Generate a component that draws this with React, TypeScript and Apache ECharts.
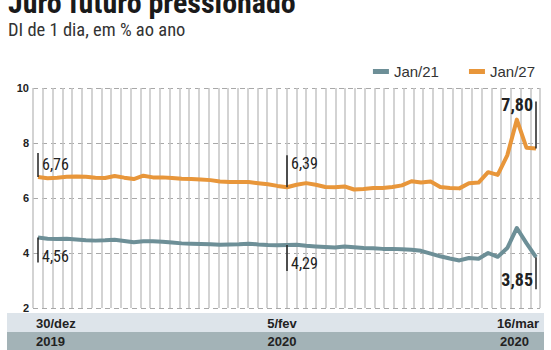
import React, { useEffect, useRef } from "react";
import * as echarts from "echarts";

const dates = [
  "30/dez", "31/dez",
  "2/jan", "3/jan", "6/jan", "7/jan", "8/jan", "9/jan", "10/jan", "13/jan", "14/jan", "15/jan", "16/jan", "17/jan",
  "20/jan", "21/jan", "22/jan", "23/jan", "24/jan", "27/jan", "28/jan", "29/jan", "30/jan", "31/jan",
  "3/fev", "4/fev", "5/fev", "6/fev", "7/fev", "10/fev", "11/fev", "12/fev", "13/fev", "14/fev",
  "17/fev", "18/fev", "19/fev", "20/fev", "21/fev", "26/fev", "27/fev", "28/fev",
  "2/mar", "3/mar", "4/mar", "5/mar", "6/mar", "9/mar", "10/mar", "11/mar", "12/mar", "13/mar", "16/mar",
];

const jan21 = [
  4.56, 4.52, 4.51, 4.52, 4.49, 4.46, 4.45, 4.46, 4.48, 4.44, 4.39, 4.43, 4.43, 4.41,
  4.38, 4.35, 4.34, 4.33, 4.32, 4.30, 4.31, 4.32, 4.34, 4.31, 4.29, 4.28, 4.29, 4.30,
  4.26, 4.24, 4.22, 4.20, 4.24, 4.21, 4.18, 4.17, 4.15, 4.15, 4.14, 4.12, 4.08, 3.98,
  3.88, 3.80, 3.73, 3.82, 3.79, 4.00, 3.86, 4.18, 4.91, 4.36, 3.85,
];

const jan27 = [
  6.76, 6.72, 6.74, 6.77, 6.78, 6.77, 6.74, 6.73, 6.80, 6.74, 6.69, 6.81, 6.75, 6.75,
  6.73, 6.70, 6.69, 6.67, 6.65, 6.60, 6.58, 6.58, 6.58, 6.54, 6.50, 6.44, 6.39, 6.48,
  6.54, 6.48, 6.40, 6.39, 6.42, 6.31, 6.33, 6.36, 6.36, 6.40, 6.46, 6.61, 6.56, 6.60,
  6.40, 6.36, 6.35, 6.54, 6.56, 6.94, 6.84, 7.55, 8.85, 7.83, 7.80,
];

const seriesNames = ["Jan/21", "Jan/27"];
const yTicks = { min: 2, max: 10, step: 2 };
const markedIdx = [0, 26, 52];
const bandDates = ["30/dez", "5/fev", "16/mar"];
const bandYears = ["2019", "2020", "2020"];

const NARROW = "'Liberation Sans Narrow', 'Roboto Condensed', 'Liberation Sans', sans-serif";
const BLUE = "#6d8f97";
const ORANGE = "#e8963a";

const fmt = (v: number) => v.toFixed(2).replace(".", ",");

export default function App() {
  const ref = useRef<HTMLDivElement>(null);
  useEffect(() => {
    if (!ref.current) return;
    const chart = echarts.init(ref.current, undefined, { renderer: "svg" });
    const gridBase = { top: 88, bottom: 42 };
    chart.setOption({
      animation: false,
      backgroundColor: "#ffffff",
      grid: [
        { left: 33, right: 11, ...gridBase },
        { left: 38, right: 15, ...gridBase },
      ],
      legend: {
        data: seriesNames,
        right: 11,
        top: 59,
        icon: "rect",
        itemWidth: 16,
        itemHeight: 5,
        itemGap: 30,
        textStyle: { fontSize: 15, color: "#333", fontFamily: "'Liberation Sans', sans-serif" },
      },
      xAxis: [
        {
          type: "category",
          gridIndex: 0,
          data: dates,
          boundaryGap: false,
          axisLine: { show: false },
          axisTick: { show: false },
          axisLabel: { show: false },
          splitLine: { show: true, interval: 0, lineStyle: { color: "#c4c4c4", width: 1.5 } },
        },
        {
          type: "category",
          gridIndex: 1,
          data: dates,
          boundaryGap: false,
          axisLine: { show: false },
          axisTick: { show: false },
          axisLabel: { show: false },
          splitLine: { show: false },
        },
      ],
      yAxis: [
        {
          type: "value",
          gridIndex: 0,
          min: yTicks.min,
          max: yTicks.max,
          interval: yTicks.step,
          axisLine: { show: false },
          axisTick: { show: false },
          axisLabel: { color: "#222", fontWeight: "bold", fontSize: 11, margin: 4, fontFamily: "'Liberation Sans', sans-serif" },
          splitLine: { lineStyle: { type: [5, 4], color: "#a8a8a8", width: 1 } },
        },
        {
          type: "value",
          gridIndex: 1,
          min: yTicks.min,
          max: yTicks.max,
          interval: yTicks.step,
          axisLine: { show: false },
          axisTick: { show: false },
          axisLabel: { show: false },
          splitLine: { show: false },
        },
      ],
      series: [
        {
          name: seriesNames[0],
          type: "line",
          xAxisIndex: 1,
          yAxisIndex: 1,
          data: jan21,
          symbol: "none",
          color: BLUE,
          lineStyle: { width: 4, color: BLUE, join: "round" },
          z: 3,
        },
        {
          name: seriesNames[1],
          type: "line",
          xAxisIndex: 1,
          yAxisIndex: 1,
          data: jan27,
          symbol: "none",
          color: ORANGE,
          lineStyle: { width: 4, color: ORANGE, join: "round" },
          z: 3,
        },
      ],
    });

    const px = (i: number, v: number) =>
      chart.convertToPixel({ xAxisIndex: 1, yAxisIndex: 1 }, [i, v]) as number[];

    const elements: any[] = [];
    // title & subtitle
    elements.push({
      type: "text",
      left: 8,
      top: -13,
      style: { text: "Juro futuro pressionado", font: `bold 30px ${NARROW}`, fill: "#1a1a1a" },
    });
    elements.push({
      type: "text",
      left: 8,
      top: 20,
      style: { text: "DI de 1 dia, em % ao ano", font: `18.5px ${NARROW}`, fill: "#333" },
    });
    // bottom bands
    elements.push({ type: "rect", shape: { x: 7, y: 313, width: 537, height: 19 }, style: { fill: "#dde4ea" }, z: 0 });
    elements.push({ type: "rect", shape: { x: 7, y: 332, width: 537, height: 18 }, style: { fill: "#a3b3b7" }, z: 0 });

    markedIdx.forEach((idx, k) => {
      const p = px(idx, 0);
      const align = k === 0 ? "left" : k === 1 ? "center" : "right";
      const xOff = k === 0 ? -2 : k === 1 ? -5 : 3;
      elements.push({
        type: "text",
        x: p[0] + xOff,
        y: 323,
        style: { text: bandDates[k], font: `bold 13px 'Liberation Sans', sans-serif`, fill: "#222", align, verticalAlign: "middle" },
        z: 5,
      });
      elements.push({
        type: "text",
        x: p[0] + (k === 2 ? -7 : xOff),
        y: 341,
        style: { text: bandYears[k], font: `bold 13px 'Liberation Sans', sans-serif`, fill: "#222", align, verticalAlign: "middle" },
        z: 5,
      });
    });

    // value annotations
    const annot = (idx: number, v: number, up: boolean, len: number, textDy: number, right: boolean, bold: boolean) => {
      const p = px(idx, v);
      const y2 = up ? p[1] - len : p[1] + len;
      elements.push({
        type: "line",
        shape: { x1: p[0], y1: p[1], x2: p[0], y2 },
        style: { stroke: "#222", lineWidth: 1.5 },
        z: 6,
      });
      elements.push({
        type: "text",
        x: right ? p[0] - 3 : p[0] + 4,
        y: p[1] + textDy,
        style: {
          text: fmt(v),
          font: `${bold ? "bold 18px" : "16px"} ${NARROW}`,
          fill: "#222",
          align: right ? "right" : "left",
          verticalAlign: "middle",
        },
        z: 6,
      });
    };
    annot(0, jan27[0], true, 24, -13, false, false);
    annot(0, jan21[0], false, 25, 19, false, false);
    annot(26, jan27[26], true, 32, -24, false, false);
    annot(26, jan21[26], false, 26, 18, false, false);
    annot(52, jan27[52], true, 47, -44, true, true);
    annot(52, jan21[52], false, 32, 22, true, true);

    chart.setOption({ graphic: elements });
    return () => chart.dispose();
  }, []);
  return (
    <div
      ref={ref}
      style={{ position: "fixed", left: 0, top: 0, width: 551, height: 350 }}
    />
  );
}
